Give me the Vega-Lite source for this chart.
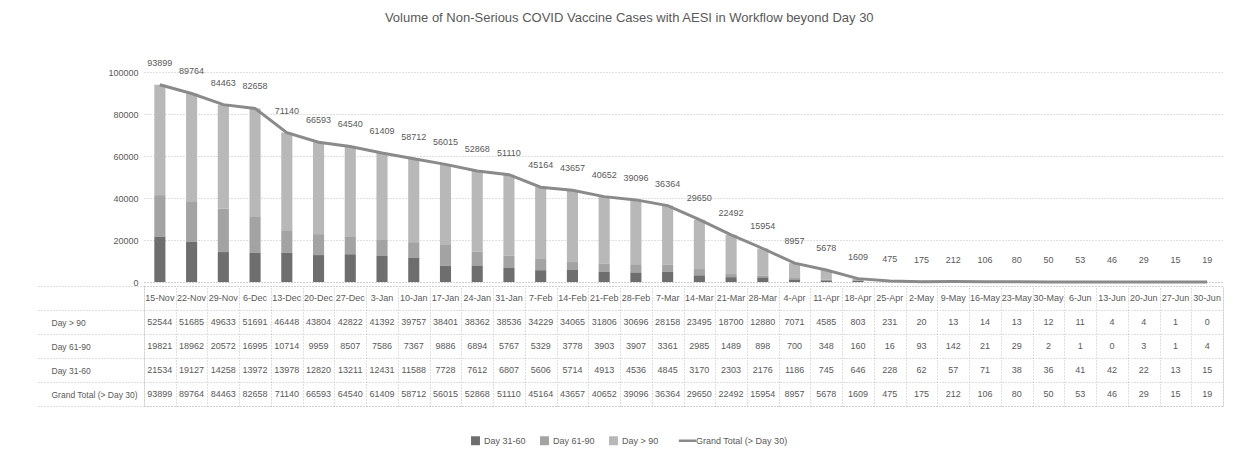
{
  "$schema": "https://vega.github.io/schema/vega-lite/v6.json",
  "padding": {"left": 35, "right": 19, "top": 11, "bottom": 5},
  "background": "white",
  "config": {
    "font": "Liberation Sans Narrow, Liberation Sans, sans-serif",
    "axis": {"labelColor": "#595959", "labelFontSize": 9},
    "text": {"color": "#595959"}
  },
  "title": {"text": "Volume of Non-Serious COVID Vaccine Cases with AESI in Workflow beyond Day 30", "fontSize": 13, "fontWeight": "normal", "color": "#595959", "anchor": "middle", "offset": 34},
  "data": {"values": [
    {"date": "15-Nov", "Day > 90": 52544, "Day 61-90": 19821, "Day 31-60": 21534, "Grand Total (> Day 30)": 93899},
    {"date": "22-Nov", "Day > 90": 51685, "Day 61-90": 18962, "Day 31-60": 19127, "Grand Total (> Day 30)": 89764},
    {"date": "29-Nov", "Day > 90": 49633, "Day 61-90": 20572, "Day 31-60": 14258, "Grand Total (> Day 30)": 84463},
    {"date": "6-Dec", "Day > 90": 51691, "Day 61-90": 16995, "Day 31-60": 13972, "Grand Total (> Day 30)": 82658},
    {"date": "13-Dec", "Day > 90": 46448, "Day 61-90": 10714, "Day 31-60": 13978, "Grand Total (> Day 30)": 71140},
    {"date": "20-Dec", "Day > 90": 43804, "Day 61-90": 9959, "Day 31-60": 12820, "Grand Total (> Day 30)": 66593},
    {"date": "27-Dec", "Day > 90": 42822, "Day 61-90": 8507, "Day 31-60": 13211, "Grand Total (> Day 30)": 64540},
    {"date": "3-Jan", "Day > 90": 41392, "Day 61-90": 7586, "Day 31-60": 12431, "Grand Total (> Day 30)": 61409},
    {"date": "10-Jan", "Day > 90": 39757, "Day 61-90": 7367, "Day 31-60": 11588, "Grand Total (> Day 30)": 58712},
    {"date": "17-Jan", "Day > 90": 38401, "Day 61-90": 9886, "Day 31-60": 7728, "Grand Total (> Day 30)": 56015},
    {"date": "24-Jan", "Day > 90": 38362, "Day 61-90": 6894, "Day 31-60": 7612, "Grand Total (> Day 30)": 52868},
    {"date": "31-Jan", "Day > 90": 38536, "Day 61-90": 5767, "Day 31-60": 6807, "Grand Total (> Day 30)": 51110},
    {"date": "7-Feb", "Day > 90": 34229, "Day 61-90": 5329, "Day 31-60": 5606, "Grand Total (> Day 30)": 45164},
    {"date": "14-Feb", "Day > 90": 34065, "Day 61-90": 3778, "Day 31-60": 5714, "Grand Total (> Day 30)": 43657},
    {"date": "21-Feb", "Day > 90": 31806, "Day 61-90": 3903, "Day 31-60": 4913, "Grand Total (> Day 30)": 40652},
    {"date": "28-Feb", "Day > 90": 30696, "Day 61-90": 3907, "Day 31-60": 4536, "Grand Total (> Day 30)": 39096},
    {"date": "7-Mar", "Day > 90": 28158, "Day 61-90": 3361, "Day 31-60": 4845, "Grand Total (> Day 30)": 36364},
    {"date": "14-Mar", "Day > 90": 23495, "Day 61-90": 2985, "Day 31-60": 3170, "Grand Total (> Day 30)": 29650},
    {"date": "21-Mar", "Day > 90": 18700, "Day 61-90": 1489, "Day 31-60": 2303, "Grand Total (> Day 30)": 22492},
    {"date": "28-Mar", "Day > 90": 12880, "Day 61-90": 898, "Day 31-60": 2176, "Grand Total (> Day 30)": 15954},
    {"date": "4-Apr", "Day > 90": 7071, "Day 61-90": 700, "Day 31-60": 1186, "Grand Total (> Day 30)": 8957},
    {"date": "11-Apr", "Day > 90": 4585, "Day 61-90": 348, "Day 31-60": 745, "Grand Total (> Day 30)": 5678},
    {"date": "18-Apr", "Day > 90": 803, "Day 61-90": 160, "Day 31-60": 646, "Grand Total (> Day 30)": 1609},
    {"date": "25-Apr", "Day > 90": 231, "Day 61-90": 16, "Day 31-60": 228, "Grand Total (> Day 30)": 475},
    {"date": "2-May", "Day > 90": 20, "Day 61-90": 93, "Day 31-60": 62, "Grand Total (> Day 30)": 175},
    {"date": "9-May", "Day > 90": 13, "Day 61-90": 142, "Day 31-60": 57, "Grand Total (> Day 30)": 212},
    {"date": "16-May", "Day > 90": 14, "Day 61-90": 21, "Day 31-60": 71, "Grand Total (> Day 30)": 106},
    {"date": "23-May", "Day > 90": 13, "Day 61-90": 29, "Day 31-60": 38, "Grand Total (> Day 30)": 80},
    {"date": "30-May", "Day > 90": 12, "Day 61-90": 2, "Day 31-60": 36, "Grand Total (> Day 30)": 50},
    {"date": "6-Jun", "Day > 90": 11, "Day 61-90": 1, "Day 31-60": 41, "Grand Total (> Day 30)": 53},
    {"date": "13-Jun", "Day > 90": 4, "Day 61-90": 0, "Day 31-60": 42, "Grand Total (> Day 30)": 46},
    {"date": "20-Jun", "Day > 90": 4, "Day 61-90": 3, "Day 31-60": 22, "Grand Total (> Day 30)": 29},
    {"date": "27-Jun", "Day > 90": 1, "Day 61-90": 1, "Day 31-60": 13, "Grand Total (> Day 30)": 15},
    {"date": "30-Jun", "Day > 90": 0, "Day 61-90": 4, "Day 31-60": 15, "Grand Total (> Day 30)": 19}
  ]},
  "bounds": "flush",
  "spacing": 4,
  "vconcat": [
    {
      "width": 1079,
      "height": 210,
      "view": {"stroke": null},
      "transform": [{"fold": ["Day > 90", "Day 61-90", "Day 31-60", "Grand Total (> Day 30)"], "as": ["series", "value"]}],
      "encoding": {
        "x": {"field": "date", "type": "ordinal",
          "scale": {"domain": ["15-Nov","22-Nov","29-Nov","6-Dec","13-Dec","20-Dec","27-Dec","3-Jan","10-Jan","17-Jan","24-Jan","31-Jan","7-Feb","14-Feb","21-Feb","28-Feb","7-Mar","14-Mar","21-Mar","28-Mar","4-Apr","11-Apr","18-Apr","25-Apr","2-May","9-May","16-May","23-May","30-May","6-Jun","13-Jun","20-Jun","27-Jun","30-Jun"], "paddingInner": 0.65, "paddingOuter": 0.325},
          "axis": {"title": null, "labels": false, "ticks": false, "grid": false, "domainColor": "#bfbfbf", "domainDash": [1, 2]}}
      },
      "layer": [
        {
          "transform": [{"filter": "datum.series !== 'Grand Total (> Day 30)'"}],
          "mark": {"type": "bar"},
          "encoding": {
            "y": {"field": "value", "type": "quantitative", "stack": "zero",
              "scale": {"domain": [0, 100000]},
              "axis": {"title": null, "values": [0,10000,20000,30000,40000,50000,60000,70000,80000,90000,100000], "format": "d", "grid": true, "gridDash": [1, 2], "gridColor": "#bfbfbf", "domain": false, "ticks": false, "labelPadding": 6}},
            "order": {"field": "series", "sort": "ascending"},
            "color": {"field": "series", "type": "nominal",
              "scale": {"domain": ["Day 31-60", "Day 61-90", "Day > 90", "Grand Total (> Day 30)"], "range": ["#6e6e6e", "#a3a3a3", "#b8b8b8", "#8a8a8a"]},
              "legend": {"orient": "none", "legendX": 327, "legendY": 364, "direction": "horizontal", "title": null, "labelFontSize": 9, "labelColor": "#595959", "symbolType": "square", "symbolSize": 80, "columnPadding": 14,
                "encode": {"symbols": {"update": {
                  "shape": {"signal": "datum.value === 'Grand Total (> Day 30)' ? 'stroke' : 'square'"},
                  "stroke": {"signal": "scale('color', datum.value)"},
                  "strokeWidth": {"signal": "datum.value === 'Grand Total (> Day 30)' ? 2.5 : 0"},
                  "size": {"signal": "datum.value === 'Grand Total (> Day 30)' ? 300 : 80"}
                }}}}}
          }
        },
        {
          "transform": [{"filter": "datum.series === 'Grand Total (> Day 30)'"}],
          "mark": {"type": "line", "strokeWidth": 3},
          "encoding": {
            "y": {"field": "value", "type": "quantitative"},
            "color": {"field": "series", "type": "nominal"}
          }
        },
        {
          "transform": [{"filter": "datum.series === 'Grand Total (> Day 30)'"}],
          "mark": {"type": "text", "dy": -22, "fontSize": 9, "color": "#595959"},
          "encoding": {
            "y": {"field": "value", "type": "quantitative"},
            "text": {"field": "value", "type": "quantitative", "format": "d"}
          }
        }
      ]
    },
    {
      "width": 1079,
      "height": 120,
      "view": {"stroke": "#bfbfbf", "strokeDash": [1, 2]},
      "encoding": {
        "x": {"field": "date", "type": "ordinal",
          "scale": {"domain": ["15-Nov","22-Nov","29-Nov","6-Dec","13-Dec","20-Dec","27-Dec","3-Jan","10-Jan","17-Jan","24-Jan","31-Jan","7-Feb","14-Feb","21-Feb","28-Feb","7-Mar","14-Mar","21-Mar","28-Mar","4-Apr","11-Apr","18-Apr","25-Apr","2-May","9-May","16-May","23-May","30-May","6-Jun","13-Jun","20-Jun","27-Jun","30-Jun"], "paddingInner": 0, "paddingOuter": 0},
          "axis": {"title": null, "labels": false, "ticks": false, "domain": false, "grid": true, "tickBand": "extent", "gridDash": [1, 2], "gridColor": "#bfbfbf"}}
      },
      "layer": [
        {
          "mark": {"type": "text", "fontSize": 9},
          "encoding": {
            "y": {"datum": "dates", "type": "nominal",
              "scale": {"domain": ["dates", "Day > 90", "Day 61-90", "Day 31-60", "Grand Total (> Day 30)"]},
              "axis": {"title": null, "labelExpr": "datum.value === 'dates' ? '' : datum.value", "labelAlign": "left", "labelPadding": -15, "tickSize": 108, "tickBand": "extent", "tickDash": [1, 2], "tickColor": "#bfbfbf", "grid": true, "gridDash": [1, 2], "gridColor": "#bfbfbf", "domain": false, "labelFontSize": 8.5}},
            "text": {"field": "date"}
          }
        },
        {
          "transform": [{"fold": ["Day > 90", "Day 61-90", "Day 31-60", "Grand Total (> Day 30)"], "as": ["series", "value"]}],
          "mark": {"type": "text", "fontSize": 9},
          "encoding": {
            "y": {"field": "series", "type": "nominal"},
            "text": {"field": "value", "type": "quantitative", "format": "d"}
          }
        }
      ]
    }
  ]
}
